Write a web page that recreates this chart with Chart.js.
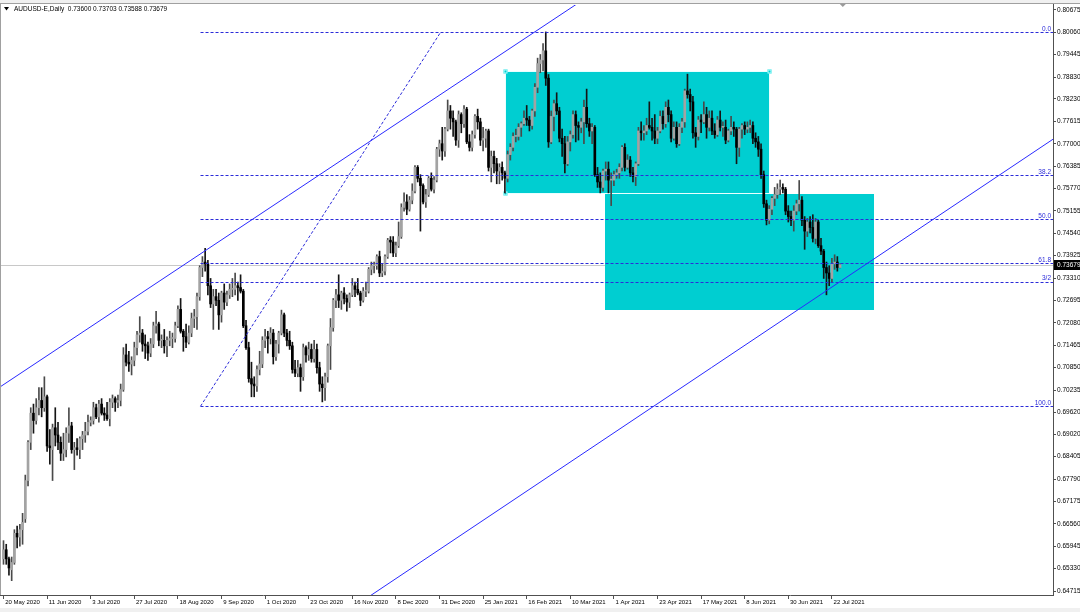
<!DOCTYPE html>
<html>
<head>
<meta charset="utf-8">
<title>AUDUSD-E Daily</title>
<script src="https://cdn.jsdelivr.net/npm/chart.js@4.4.1/dist/chart.umd.min.js"></script>
<style>
  html, body { margin: 0; padding: 0; background: #fff; }
  #chart { display: block; }
</style>
</head>
<body>
<canvas id="chart" width="1080" height="612"></canvas>
<script>
// daily candles, price x 10000, 20 May 2020 .. 27 Jul 2021
const opens = [
  6560,6585,6560,6530,6550,6630,6620,6640,6670,6775,
  6880,6960,6940,6975,6995,6975,7005,6870,6860,6920,
  6900,6880,6850,6860,6905,6925,6860,6865,6860,6890,
  6900,6910,6935,6940,6975,6950,6985,6960,6955,6945,
  6990,7000,6990,6995,7025,7120,7100,7095,7105,7140,
  7175,7180,7150,7145,7125,7150,7200,7205,7160,7160,
  7145,7160,7165,7165,7200,7245,7185,7170,7155,7180,
  7220,7225,7280,7360,7375,7370,7310,7260,7280,7270,
  7230,7290,7265,7285,7300,7300,7310,7305,7295,7200,
  7140,7055,7040,7035,7080,7095,7160,7170,7165,7180,
  7115,7150,7180,7230,7180,7160,7145,7080,7070,7085,
  7060,7140,7120,7135,7110,7135,7085,7040,7030,7060,
  7145,7195,7270,7285,7270,7290,7275,7265,7285,7310,
  7300,7290,7270,7295,7295,7355,7365,7365,7390,7345,
  7350,7390,7435,7430,7400,7420,7445,7525,7540,7520,
  7545,7570,7635,7605,7585,7540,7560,7605,7575,7600,
  7685,7700,7680,7740,7790,7770,7760,7710,7780,7755,
  7795,7705,7690,7725,7775,7760,7710,7715,7735,7635,
  7665,7645,7625,7635,7620,7605,7670,7690,7720,7720,
  7745,7755,7770,7765,7750,7790,7855,7920,7930,7955,
  7880,7705,7775,7810,7790,7715,7700,7645,7705,7725,
  7780,7750,7745,7760,7800,7755,7735,7745,7615,7595,
  7580,7625,7630,7600,7600,7615,7620,7635,7690,7635,
  7655,7620,7610,7645,7735,7730,7735,7750,7745,7735,
  7715,7735,7775,7755,7800,7780,7715,7745,7700,7745,
  7760,7845,7835,7815,7730,7720,7765,7760,7780,7745,
  7770,7735,7725,7765,7745,7745,7710,7735,7745,7740,
  7690,7740,7750,7740,7745,7750,7715,7705,7685,7615,
  7535,7490,7520,7550,7560,7575,7580,7575,7515,7500,
  7490,7515,7535,7545,7490,7460,7485,7470,7440,7485,
  7420,7405,7360,7345,7330,7370,7375,7360
];
const highs = [
  6610,6600,6565,6565,6640,6650,6655,6685,6790,6885,
  6975,6985,7000,7030,7030,7060,7010,6915,6930,6975,
  6935,6895,6905,6920,6975,6935,6880,6890,6895,6910,
  6935,6955,6950,6990,6985,6995,7000,6975,6990,7000,
  7010,7005,7010,7040,7140,7150,7130,7115,7155,7185,
  7225,7190,7175,7155,7165,7210,7240,7210,7175,7190,
  7170,7185,7180,7210,7255,7275,7190,7205,7200,7235,
  7245,7290,7365,7390,7413,7380,7330,7300,7300,7290,
  7295,7315,7295,7315,7330,7345,7320,7340,7300,7215,
  7155,7100,7060,7090,7130,7170,7190,7185,7195,7190,
  7160,7185,7243,7235,7190,7185,7155,7105,7105,7095,
  7150,7145,7155,7150,7160,7150,7100,7060,7070,7150,
  7220,7275,7300,7340,7295,7305,7285,7290,7330,7320,
  7330,7295,7305,7320,7360,7375,7375,7395,7405,7370,
  7395,7440,7445,7445,7430,7485,7535,7565,7560,7555,
  7590,7640,7640,7615,7590,7575,7610,7620,7610,7690,
  7710,7745,7745,7820,7805,7790,7765,7790,7785,7805,
  7800,7725,7735,7780,7795,7770,7745,7740,7740,7680,
  7680,7660,7645,7650,7625,7680,7700,7730,7740,7755,
  7760,7790,7805,7775,7795,7865,7935,7945,7975,8007,
  7890,7790,7820,7840,7800,7740,7720,7720,7735,7790,
  7790,7760,7770,7820,7850,7770,7755,7750,7635,7620,
  7630,7650,7650,7620,7625,7630,7645,7695,7700,7670,
  7665,7635,7650,7745,7760,7750,7770,7815,7770,7780,
  7745,7790,7790,7815,7820,7790,7760,7760,7755,7770,
  7850,7891,7850,7830,7745,7775,7780,7815,7800,7790,
  7790,7755,7775,7790,7760,7765,7740,7775,7760,7745,
  7745,7755,7760,7760,7765,7760,7730,7720,7700,7625,
  7545,7530,7555,7580,7590,7600,7590,7580,7530,7515,
  7530,7545,7599,7555,7500,7495,7500,7505,7495,7490,
  7440,7410,7375,7365,7385,7395,7390,7370.3
];
const lows = [
  6545,6545,6515,6500,6545,6590,6595,6600,6660,6760,
  6860,6905,6930,6955,6950,6965,6855,6820,6775,6870,
  6860,6830,6830,6840,6880,6850,6805,6845,6835,6860,
  6880,6900,6925,6930,6945,6935,6955,6940,6940,6925,
  6975,6965,6975,6980,7020,7090,7075,7065,7090,7120,
  7155,7130,7110,7105,7115,7140,7180,7145,7140,7125,
  7115,7145,7140,7155,7195,7180,7130,7140,7150,7170,
  7195,7190,7270,7335,7350,7285,7250,7190,7255,7190,
  7210,7245,7255,7275,7280,7285,7270,7290,7195,7135,
  7045,7005,7005,7020,7065,7085,7140,7125,7150,7095,
  7105,7125,7175,7170,7145,7135,7070,7060,7060,7020,
  7050,7100,7105,7100,7100,7070,7020,6991,6995,7045,
  7080,7185,7250,7250,7245,7260,7240,7250,7280,7280,
  7285,7255,7265,7280,7290,7340,7345,7355,7335,7335,
  7340,7385,7400,7390,7390,7415,7440,7515,7505,7515,
  7535,7565,7595,7460,7535,7525,7555,7570,7565,7595,
  7665,7655,7665,7735,7740,7720,7695,7690,7730,7745,
  7700,7680,7680,7715,7740,7695,7680,7690,7625,7595,
  7620,7590,7590,7600,7565,7595,7655,7680,7705,7710,
  7720,7750,7750,7735,7740,7775,7840,7895,7900,7860,
  7690,7700,7735,7780,7705,7665,7620,7640,7680,7715,
  7705,7710,7730,7700,7745,7720,7700,7610,7580,7565,
  7570,7600,7565,7530,7585,7605,7605,7625,7625,7630,
  7610,7595,7585,7640,7710,7710,7725,7740,7710,7700,
  7700,7730,7740,7745,7760,7705,7710,7690,7695,7730,
  7745,7825,7790,7715,7690,7710,7730,7755,7715,7735,
  7725,7715,7720,7735,7720,7700,7705,7725,7720,7645,
  7665,7715,7725,7730,7730,7700,7690,7665,7605,7525,
  7477,7480,7505,7530,7550,7560,7565,7505,7485,7475,
  7460,7505,7515,7475,7410,7445,7455,7430,7425,7415,
  7395,7330,7285,7310,7320,7355,7350,7358.8
];
const closes = [
  6585,6560,6535,6550,6630,6620,6640,6660,6775,6880,
  6960,6940,6975,6995,6975,7005,6870,6865,6920,6900,
  6880,6850,6860,6905,6925,6860,6865,6860,6890,6900,
  6910,6935,6940,6975,6950,6985,6960,6955,6945,6990,
  7000,6990,6995,7025,7120,7100,7095,7105,7140,7175,
  7180,7150,7145,7125,7150,7200,7205,7160,7160,7145,
  7160,7165,7165,7200,7245,7185,7170,7155,7180,7220,
  7225,7280,7360,7375,7370,7310,7260,7280,7270,7230,
  7290,7265,7285,7300,7300,7310,7305,7295,7200,7140,
  7055,7040,7035,7080,7095,7160,7170,7165,7180,7115,
  7150,7180,7230,7180,7160,7145,7080,7070,7085,7060,
  7140,7120,7135,7110,7135,7085,7040,7030,7060,7145,
  7195,7270,7285,7270,7290,7275,7265,7285,7310,7300,
  7290,7270,7295,7295,7355,7365,7365,7390,7345,7350,
  7390,7435,7430,7400,7420,7445,7525,7540,7520,7545,
  7570,7635,7605,7585,7540,7560,7605,7575,7600,7685,
  7700,7680,7740,7790,7770,7760,7710,7780,7755,7795,
  7705,7690,7725,7775,7760,7710,7715,7735,7635,7665,
  7645,7625,7635,7620,7605,7670,7690,7720,7720,7745,
  7755,7770,7765,7750,7790,7855,7920,7930,7955,7880,
  7705,7775,7810,7790,7715,7700,7645,7705,7725,7780,
  7750,7745,7760,7800,7755,7735,7745,7615,7595,7580,
  7625,7630,7600,7600,7615,7620,7635,7690,7635,7655,
  7620,7610,7645,7735,7730,7735,7750,7745,7735,7715,
  7735,7775,7755,7800,7780,7715,7745,7700,7745,7760,
  7845,7835,7815,7730,7720,7765,7760,7780,7745,7770,
  7735,7725,7765,7745,7745,7710,7735,7745,7740,7690,
  7740,7750,7740,7745,7750,7715,7705,7685,7615,7535,
  7490,7520,7550,7560,7575,7580,7575,7515,7500,7490,
  7515,7535,7545,7490,7460,7485,7470,7440,7485,7420,
  7405,7360,7345,7330,7370,7375,7360,7367.9
];

// one date label every 16 bars
const dateTicks = ['20 May 2020', '11 Jun 2020', '3 Jul 2020', '27 Jul 2020', '18 Aug 2020', '9 Sep 2020',
  '1 Oct 2020', '23 Oct 2020', '16 Nov 2020', '8 Dec 2020', '31 Dec 2020', '25 Jan 2021', '16 Feb 2021',
  '10 Mar 2021', '1 Apr 2021', '23 Apr 2021', '17 May 2021', '8 Jun 2021', '30 Jun 2021', '22 Jul 2021'];
const tickEvery = 16;
const priceTicks = [0.80675, 0.80060, 0.79445, 0.78830, 0.78230, 0.77615, 0.77000, 0.76385, 0.75770,
  0.75155, 0.74540, 0.73925, 0.73310, 0.72695, 0.72080, 0.71465, 0.70850, 0.70235, 0.69620, 0.69020,
  0.68405, 0.67790, 0.67175, 0.66560, 0.65945, 0.65330, 0.64715];
const titleText = 'AUDUSD-E,Daily  0.73600 0.73703 0.73588 0.73679';
const bidPrice = 0.73679;

// objects drawn on the chart (bar index, price)
const fibFrom = { bar: 72.3, price: 0.6979 };
const fibTo = { bar: 160.4, price: 0.8006 };
const fibLevels = [0, 38.2, 50, 61.8, 66.7, 100];
const fibNames = ['0.0', '38.2', '50.0', '61.8', '3/2', '100.0'];
const upperLine = [{ bar: 0, price: 0.70384 }, { bar: 200, price: 0.80321 }];
const lowerLine = [{ bar: 200, price: 0.67859 }, { bar: 300, price: 0.72863 }];
const boxes = [
  { from: 184.2, to: 281.1, top: 0.79002, bottom: 0.75657, selected: true },
  { from: 220.6, to: 319.3, top: 0.75630, bottom: 0.72422 }
];

const BAR_PX = 2.725;
const FIRST_BAR_PX = 3.5;
const AXIS_W = 27;
const AXIS_H = 17;
const xMin = -FIRST_BAR_PX / BAR_PX;
const xMax = xMin + (1080 - AXIS_W) / BAR_PX;

const FONT = 'Liberation Sans, Arial, sans-serif';
const FIB_BLUE = '#2b2bd9';
const LINE_BLUE = '#2a2aff';
const CYAN = '#00ced1';

const idx = closes.map((_, i) => i);
const isUp = idx.map(i => closes[i] >= opens[i]);

const overlays = {
    id: 'overlays',
    beforeDatasetsDraw(chart) {
        const { ctx, chartArea: a, scales: { x, y } } = chart;
        ctx.save();
        ctx.beginPath();
        ctx.rect(a.left, a.top, a.right - a.left, a.bottom - a.top);
        ctx.clip();

        // bid line
        const by = Math.round(y.getPixelForValue(bidPrice)) + 0.5;
        ctx.strokeStyle = '#c8c8c8';
        ctx.lineWidth = 1;
        ctx.beginPath();
        ctx.moveTo(a.left, by);
        ctx.lineTo(a.right, by);
        ctx.stroke();

        // rectangles, last one underneath
        boxes.slice().reverse().forEach(b => {
            const x1 = Math.round(x.getPixelForValue(b.from));
            const x2 = Math.round(x.getPixelForValue(b.to));
            const y1 = Math.round(y.getPixelForValue(b.top));
            const y2 = Math.round(y.getPixelForValue(b.bottom));
            ctx.fillStyle = CYAN;
            ctx.fillRect(x1, y1, x2 - x1, y2 - y1);
            if (b.selected) {
                ctx.strokeStyle = '#e8ffff';
                ctx.strokeRect(x1 + 0.5, y1 + 0.5, x2 - x1, y2 - y1);
                [[x1, y1], [x2, y1], [x1, y2]].forEach(([px, py]) => {
                    ctx.fillStyle = CYAN;
                    ctx.fillRect(px - 1.5, py - 1.5, 4, 4);
                    ctx.strokeStyle = '#b0ffff';
                    ctx.strokeRect(px - 1, py - 1, 3, 3);
                });
            }
        });
        ctx.restore();
    },
    afterDatasetsDraw(chart) {
        const { ctx, chartArea: a, scales: { x, y } } = chart;
        ctx.save();
        ctx.beginPath();
        ctx.rect(a.left, a.top, a.right - a.left, a.bottom - a.top);
        ctx.clip();

        // fibonacci levels
        const span = fibTo.price - fibFrom.price;
        const fx = x.getPixelForValue(fibFrom.bar);
        ctx.strokeStyle = FIB_BLUE;
        ctx.lineWidth = 1;
        ctx.setLineDash([3, 2]);
        fibLevels.forEach(lv => {
            const ly = Math.round(y.getPixelForValue(fibTo.price - span * lv / 100)) + 0.5;
            ctx.beginPath();
            ctx.moveTo(fx, ly);
            ctx.lineTo(a.right, ly);
            ctx.stroke();
        });
        ctx.beginPath();
        ctx.moveTo(fx, y.getPixelForValue(fibFrom.price));
        ctx.lineTo(x.getPixelForValue(fibTo.bar), y.getPixelForValue(fibTo.price));
        ctx.stroke();
        ctx.setLineDash([]);

        // trend lines, extended both ways
        ctx.strokeStyle = LINE_BLUE;
        [upperLine, lowerLine].forEach(([p1, p2]) => {
            const k = (p2.price - p1.price) / (p2.bar - p1.bar);
            const at = b => p1.price + k * (b - p1.bar);
            ctx.beginPath();
            ctx.moveTo(x.getPixelForValue(xMin), y.getPixelForValue(at(xMin)));
            ctx.lineTo(x.getPixelForValue(xMax), y.getPixelForValue(at(xMax)));
            ctx.stroke();
        });

        // level captions
        ctx.fillStyle = FIB_BLUE;
        ctx.font = '6.5px ' + FONT;
        ctx.textAlign = 'right';
        ctx.textBaseline = 'bottom';
        fibLevels.forEach((lv, i) => {
            const ly = y.getPixelForValue(fibTo.price - span * lv / 100);
            ctx.fillText(fibNames[i], a.right - 2, ly);
        });
        ctx.restore();
    },
    afterDraw(chart) {
        const { ctx, chartArea: a, scales: { x, y } } = chart;
        ctx.save();
        // window frame
        ctx.fillStyle = '#f0f0f0';
        ctx.fillRect(0, 0, 1080, 3);
        ctx.fillRect(0, 608, 1080, 4);
        ctx.strokeStyle = '#a0a0a0';
        ctx.beginPath();
        ctx.moveTo(0, 3.5);
        ctx.lineTo(1080, 3.5);
        ctx.moveTo(0.5, 3);
        ctx.lineTo(0.5, a.bottom);
        ctx.stroke();

        // chart shift marker
        const sx = x.getPixelForValue(closes.length);
        ctx.fillStyle = '#9a9a9a';
        ctx.beginPath();
        ctx.moveTo(sx - 3, 4);
        ctx.lineTo(sx + 3, 4);
        ctx.lineTo(sx, 7);
        ctx.closePath();
        ctx.fill();

        // title
        ctx.fillStyle = '#000';
        ctx.beginPath();
        ctx.moveTo(4, 7);
        ctx.lineTo(9, 7);
        ctx.lineTo(6.5, 10.5);
        ctx.closePath();
        ctx.fill();
        ctx.font = '6.5px ' + FONT;
        ctx.textAlign = 'left';
        ctx.textBaseline = 'middle';
        ctx.fillText(titleText, 14, 9);

        // current price box
        const by = Math.round(y.getPixelForValue(bidPrice));
        ctx.fillStyle = '#000';
        ctx.fillRect(a.right + 1, by - 5, 1080 - a.right, 10);
        ctx.fillStyle = '#fff';
        ctx.fillText(bidPrice.toFixed(5), a.right + 4, by);
        ctx.restore();
    }
};

new Chart(document.getElementById('chart'), {
    type: 'bar',
    data: {
        datasets: [
            {
                label: 'body',
                data: idx.map(i => ({ x: i, y: [opens[i] / 1e4, closes[i] / 1e4] })),
                backgroundColor: idx.map(i => isUp[i] ? '#a3a3a3' : '#000000'),
                barThickness: 2,
                minBarLength: 1,
                grouped: false
            },
            {
                label: 'wick',
                data: idx.map(i => ({ x: i, y: [lows[i] / 1e4, highs[i] / 1e4] })),
                backgroundColor: idx.map(i => isUp[i] ? '#4a4a4a' : '#151515'),
                barThickness: 1,
                grouped: false
            }
        ]
    },
    options: {
        responsive: false,
        animation: false,
        events: [],
        devicePixelRatio: 1,
        layout: { padding: { top: 4, left: 0, right: 0, bottom: 0 } },
        plugins: { legend: { display: false }, tooltip: { enabled: false } },
        scales: {
            x: {
                type: 'linear',
                min: xMin,
                max: xMax,
                offset: false,
                afterFit: s => { s.height = AXIS_H; },
                afterBuildTicks: s => { s.ticks = dateTicks.map((_, k) => ({ value: k * tickEvery })); },
                grid: { display: true, drawOnChartArea: false, offset: false, tickLength: 4, color: '#505050' },
                border: { display: true, color: '#505050' },
                ticks: {
                    autoSkip: false,
                    maxRotation: 0,
                    align: 'start',
                    padding: 0,
                    color: '#000',
                    font: { family: FONT, size: 6 },
                    callback: v => ' ' + dateTicks[Math.round(v / tickEvery)]
                }
            },
            y: {
                position: 'right',
                min: 0.64607,
                max: 0.80812,
                afterFit: s => { s.width = AXIS_W; },
                afterBuildTicks: s => { s.ticks = priceTicks.map(v => ({ value: v })); },
                grid: { display: true, drawOnChartArea: false, tickLength: 3, color: '#505050' },
                border: { display: true, color: '#505050' },
                ticks: {
                    autoSkip: false,
                    padding: 1,
                    color: '#000',
                    font: { family: FONT, size: 6.5 },
                    callback: v => v.toFixed(5)
                }
            }
        }
    },
    plugins: [overlays]
});
</script>
</body>
</html>
